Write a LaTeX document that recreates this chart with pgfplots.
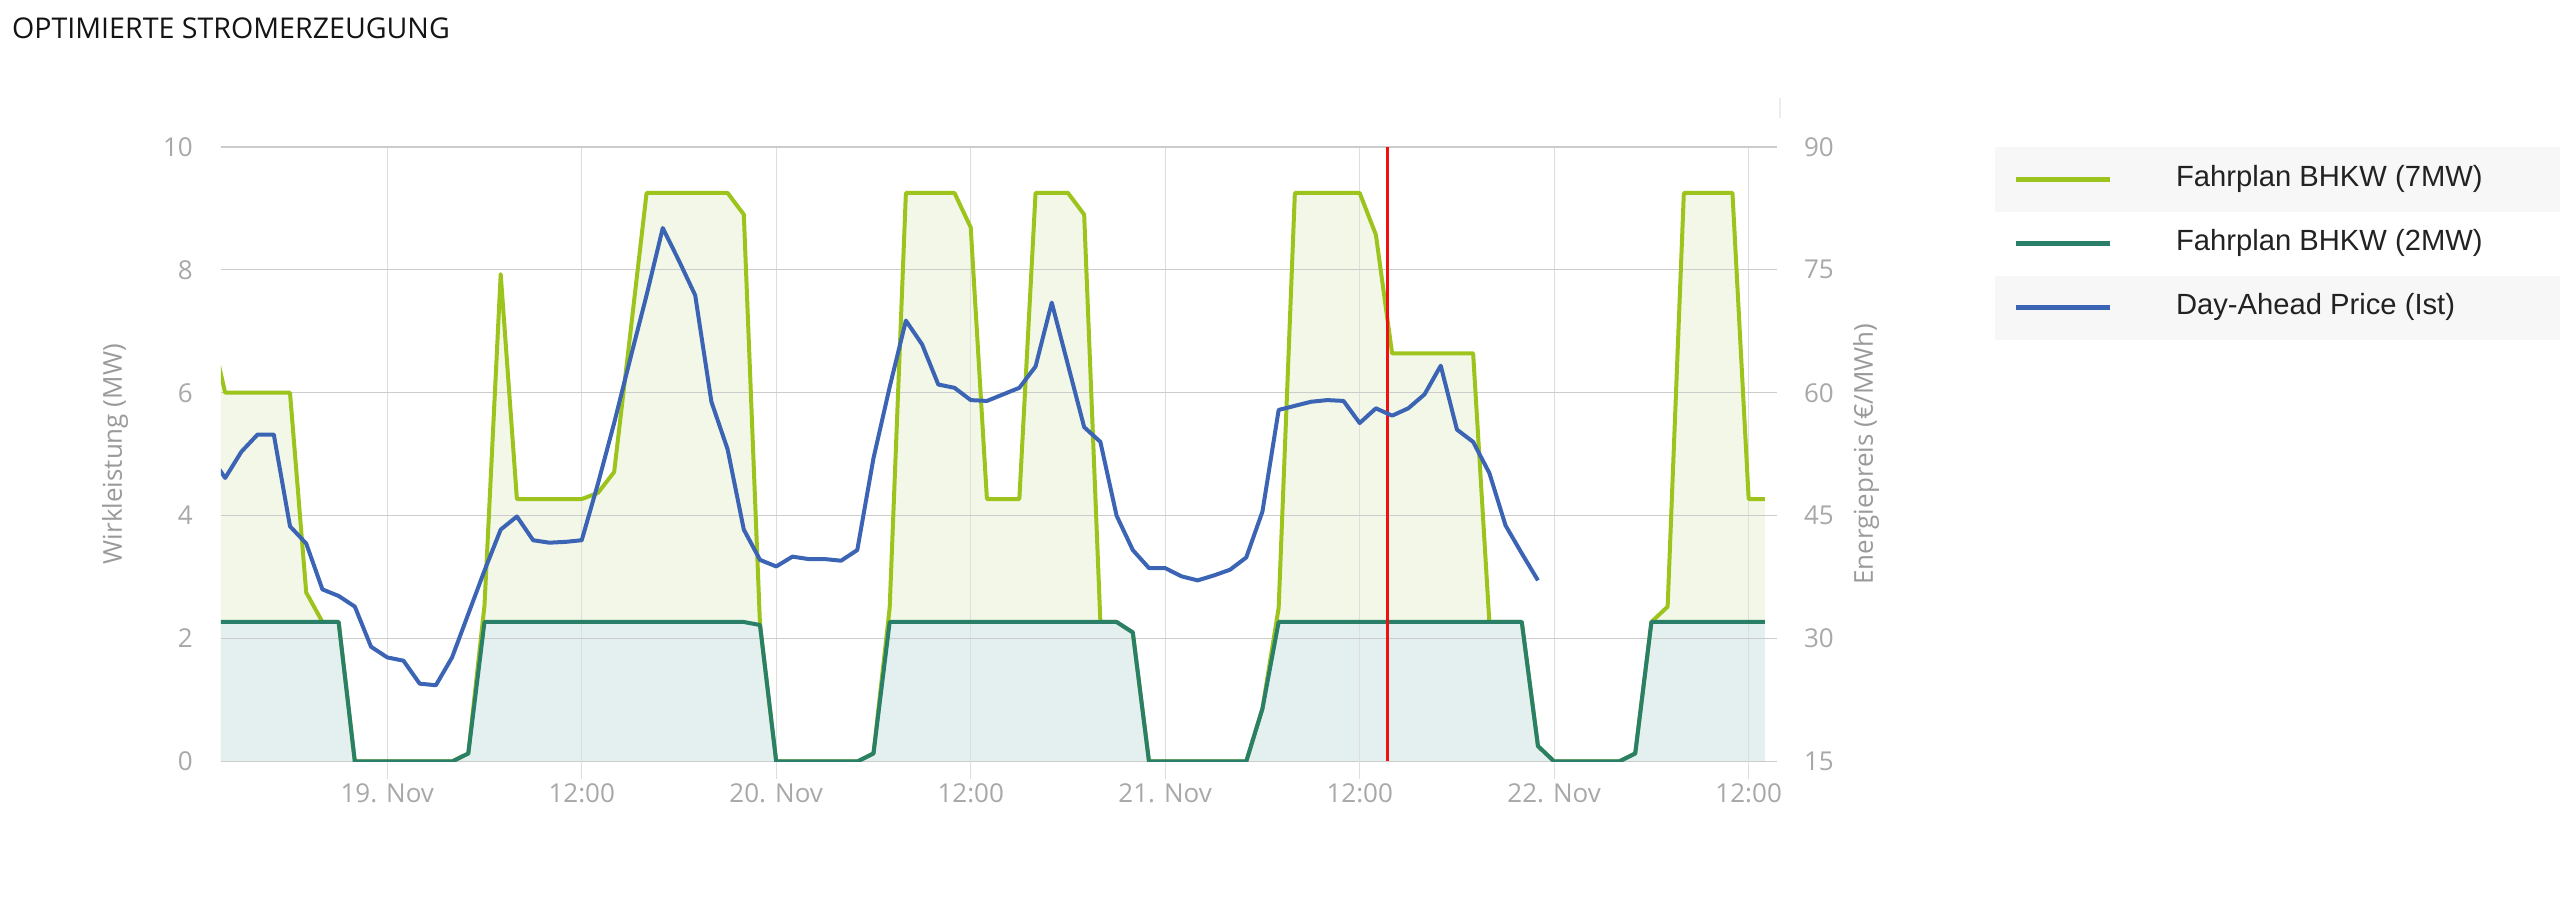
\documentclass[border=0pt]{standalone}
\usepackage{pgfplots}
\usepackage{pgfplotstable}
\pgfplotsset{compat=1.18}
\usepackage{fontspec}
\setmainfont{Open Sans}
\newfontfamily\legendfont{Liberation Sans}
\definecolor{c7}{HTML}{9DC41C}
\definecolor{c2}{HTML}{2A7F68}
\definecolor{cp}{HTML}{3C64B4}
\definecolor{f7}{HTML}{F3F7E7}
\definecolor{f2}{HTML}{E3F0EF}
\definecolor{ticktext}{HTML}{A8A8A8}
\definecolor{ttl}{HTML}{9A9A9A}
\definecolor{gridh}{HTML}{CCCCCC}
\definecolor{gridv}{HTML}{DEDEDE}
\definecolor{nowred}{HTML}{EE1111}
\definecolor{band}{HTML}{F7F7F7}
\definecolor{legtext}{HTML}{222222}

\pgfplotstableread{
h top mw2
-11 7.15 2.27
-10 6.00 2.27
-9 6.00 2.27
-8 6.00 2.27
-7 6.00 2.27
-6 6.00 2.27
-5 2.75 2.27
-4 2.27 2.27
-3 2.27 2.27
-2 0 0
-1 0 0
0 0 0
1 0 0
2 0 0
3 0 0
4 0 0
5 0.13 0.13
6 2.54 2.27
7 7.93 2.27
8 4.27 2.27
9 4.27 2.27
10 4.27 2.27
11 4.27 2.27
12 4.27 2.27
13 4.37 2.27
14 4.71 2.27
15 6.97 2.27
16 9.25 2.27
17 9.25 2.27
18 9.25 2.27
19 9.25 2.27
20 9.25 2.27
21 9.25 2.27
22 8.90 2.27
23 2.22 2.22
24 0 0
25 0 0
26 0 0
27 0 0
28 0 0
29 0 0
30 0.13 0.13
31 2.50 2.27
32 9.25 2.27
33 9.25 2.27
34 9.25 2.27
35 9.25 2.27
36 8.69 2.27
37 4.27 2.27
38 4.27 2.27
39 4.27 2.27
40 9.25 2.27
41 9.25 2.27
42 9.25 2.27
43 8.90 2.27
44 2.27 2.27
45 2.27 2.27
46 2.10 2.10
47 0 0
48 0 0
49 0 0
50 0 0
51 0 0
52 0 0
53 0 0
54 0.86 0.86
55 2.50 2.27
56 9.25 2.27
57 9.25 2.27
58 9.25 2.27
59 9.25 2.27
60 9.25 2.27
61 8.57 2.27
62 6.64 2.27
63 6.64 2.27
64 6.64 2.27
65 6.64 2.27
66 6.64 2.27
67 6.64 2.27
68 2.27 2.27
69 2.27 2.27
70 2.27 2.27
71 0.25 0.25
72 0 0
73 0 0
74 0 0
75 0 0
76 0 0
77 0.13 0.13
78 2.27 2.27
79 2.52 2.27
80 9.25 2.27
81 9.25 2.27
82 9.25 2.27
83 9.25 2.27
84 4.27 2.27
85 4.27 2.27
}\gen

\pgfplotstableread{
h price
-11 52.5
-10 49.6
-9 52.8
-8 54.9
-7 54.9
-6 43.7
-5 41.6
-4 36.0
-3 35.2
-2 33.9
-1 29.0
0 27.7
1 27.3
2 24.5
3 24.3
4 27.7
5 33.0
6 38.3
7 43.3
8 44.9
9 42.0
10 41.7
11 41.8
12 42.0
13 48.9
14 56.3
15 64.2
16 71.9
17 80.1
18 76.1
19 71.9
20 58.9
21 53.1
22 43.3
23 39.6
24 38.8
25 40.0
26 39.7
27 39.7
28 39.5
29 40.8
30 52.0
31 60.7
32 68.8
33 65.9
34 61.0
35 60.6
36 59.1
37 59.0
38 59.8
39 60.6
40 63.2
41 71.0
42 63.4
43 55.8
44 54.0
45 45.0
46 40.8
47 38.6
48 38.6
49 37.6
50 37.1
51 37.7
52 38.4
53 39.9
54 45.5
55 57.9
56 58.4
57 58.9
58 59.1
59 59.0
60 56.3
61 58.1
62 57.2
63 58.1
64 59.8
65 63.3
66 55.5
67 54.0
68 50.2
69 43.8
70 40.4
71 37.1
}\price

\begin{document}
\begin{tikzpicture}
\path (0pt,0pt) rectangle (1280pt,448.5pt);
\node[anchor=west, inner sep=0pt, font=\fontsize{14.3}{17}\selectfont, text=black!92] at (5.85pt,434.15pt) {OPTIMIERTE STROMERZEUGUNG};
\fill[band] (997.5pt,342.5pt) rectangle (1280pt,375pt);
\fill[band] (997.5pt,278.5pt) rectangle (1280pt,310.5pt);
\draw[gray!15, line width=1pt] (890pt,389.5pt) -- (890pt,399.5pt);

\begin{axis}[
  set layers, clip mode=individual,
  at={(110.4pt,67.75pt)}, anchor=south west,
  scale only axis, width=777.95pt, height=307.3pt,
  xmin=-10.27, xmax=85.73, ymin=0, ymax=10,
  axis line style={draw=none},
  xtick={0,12,24,36,48,60,72,84},
  xticklabels={19. Nov,12:00,20. Nov,12:00,21. Nov,12:00,22. Nov,12:00},
  ytick={0,2,4,6,8,10},
  /pgf/number format/assume math mode=true,
  xtick pos=left,
  major tick length=-8.7pt,
  xtick style={color=gridv, line width=0.6pt},
  ytick style={draw=none},
  xmajorgrids, ymajorgrids,
  x grid style={color=gridv, line width=0.6pt},
  y grid style={color=gridh, line width=0.65pt},
  tick label style={font=\fontsize{13}{15}\selectfont, text=ticktext},
  xticklabel style={anchor=center, inner sep=0pt, yshift=-16pt},
  yticklabel style={anchor=east, inner sep=0pt, xshift=-13.8pt},
  ylabel={Wirkleistung (MW)},
  ylabel style={at={(axis description cs:-0.068,0.5)}, anchor=center, font=\fontsize{13}{15}\selectfont, text=ttl},
  legend style={
    at={(axis description cs:1.15251,0.96925)}, anchor=north west,
    draw=none, fill=none, inner sep=0pt, outer sep=0pt,
    row sep=17.9pt, column sep=31.9pt,
    font=\legendfont\fontsize{14.6}{17}\selectfont, text=legtext,
    nodes={inner sep=0pt, outer sep=0pt, text height=10.5pt, text depth=3.5pt},
  },
  legend cell align=left,
  legend image code/.code={\draw[#1, line width=2.3pt] (0pt,0pt) -- (46.8pt,0pt);},
  line join=round,
]
\addplot[draw=none, fill=f7, on layer=axis background, forget plot] table[x=h, y=top] {\gen} \closedcycle;
\addplot[draw=none, fill=f2, on layer=axis background, forget plot] table[x=h, y=mw2] {\gen} \closedcycle;
\addplot[c7, line width=2pt, no markers] table[x=h, y=top] {\gen};
\addlegendentry{Fahrplan BHKW (7MW)}
\addplot[c2, line width=2pt, no markers] table[x=h, y=mw2] {\gen};
\addlegendentry{Fahrplan BHKW (2MW)}
\addlegendimage{cp, line width=2pt}
\addlegendentry{Day-Ahead Price (Ist)}
\addplot[nowred, line width=1.6pt, forget plot] coordinates {(61.7,0) (61.7,10)};
\end{axis}

\begin{axis}[
  set layers,
  at={(110.4pt,67.75pt)}, anchor=south west,
  scale only axis, width=777.95pt, height=307.3pt,
  xmin=-10.27, xmax=85.73, ymin=15, ymax=90,
  axis x line=none, axis y line*=right,
  y axis line style={draw=none},
  ytick={15,30,45,60,75,90},
  ytick style={draw=none},
  /pgf/number format/assume math mode=true,
  tick label style={font=\fontsize{13}{15}\selectfont, text=ticktext},
  yticklabel style={anchor=west, inner sep=0pt, xshift=13.5pt},
  ylabel={Energiepreis (€/MWh)},
  ylabel style={at={(axis description cs:1.0574,0.5)}, anchor=center, font=\fontsize{13}{15}\selectfont, text=ttl},
  line join=round,
]
\addplot[cp, line width=2pt, no markers] table[x=h, y=price] {\price};
\end{axis}
\end{tikzpicture}
\end{document}
